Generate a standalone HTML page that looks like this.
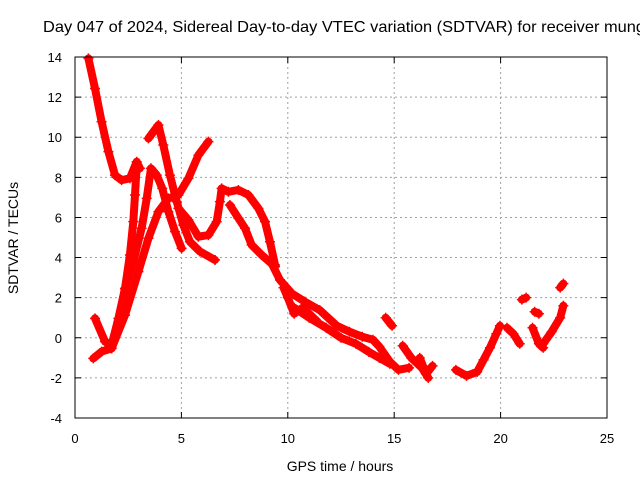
<!DOCTYPE html>
<html><head><meta charset="utf-8"><style>
body{margin:0;background:#fff}
svg{display:block;font-family:"Liberation Sans",sans-serif}
</style></head><body>
<svg id="c" width="640" height="480">
<text x="43" y="32" font-size="16" textLength="602" lengthAdjust="spacingAndGlyphs">Day 047 of 2024, Sidereal Day-to-day VTEC variation (SDTVAR) for receiver mung</text>
<text transform="translate(18,238) rotate(-90)" text-anchor="middle" font-size="14">SDTVAR / TECUs</text>
<text x="340" y="471" text-anchor="middle" font-size="14">GPS time / hours</text>
<g id="grid"></g><g id="ticks"></g><g id="data"></g>
<rect x="75" y="57" width="532" height="361" fill="none" stroke="#000" stroke-width="1"/>
</svg>
<script>
const xTicks=[0,5,10,15,20,25];
const yTicks=[-4,-2,0,2,4,6,8,10,12,14];
const seriesT=[
[0.63,0.94,1.25,1.57,1.88,2.19,2.58,2.90,3.05],
[0.86,1.25,1.72,2.04,2.35,2.58,2.74,2.82,2.90],
[0.94,1.41,1.72,2.04,2.35,2.74,3.13,3.37,3.57,3.84,4.10,4.39,4.70,5.01],
[1.72,2.35,2.98,3.45,3.92,4.39,4.86,5.33,5.80,6.27],
[3.45,3.92,4.15,4.46,4.78,5.09,5.40,5.87,6.58],
[4.86,5.33,5.80,6.27,6.66,6.81,6.89,7.21,7.68,8.15,8.62,8.93,9.16,9.40],
[7.28,7.68,7.99,8.30,8.77,9.40],
[9.16,9.63,10.2,10.8,11.5,12.3,12.9,13.5,14.0,14.3,14.8,15.2,15.7],
[9.8,10.0,10.3,10.7,11.0,11.4],
[10.3,11.0,11.8,12.5,13.2,13.8,14.3,14.8],
[14.6,14.9],
[15.4,15.8,16.3,16.6],
[16.2,16.5,16.8],
[17.9,18.4,18.9,19.2,19.5,19.8,19.97],
[20.3,20.6,20.9],
[21.0,21.2],
[21.5,21.8,22.0],
[21.6,21.8],
[22.0,22.4,22.8,22.95],
[22.8,22.95]];
const seriesV=[
[13.93,12.43,10.77,9.28,8.11,7.86,7.95,8.78,8.45],
[-1.03,-0.69,-0.53,0.8,2.46,4.13,5.79,7.12,8.61],
[0.97,-0.19,-0.36,0.97,2.46,3.8,5.46,6.95,8.45,8.11,7.45,6.29,5.29,4.46],
[-0.53,1.13,3.3,4.96,6.29,6.95,7.12,7.95,9.11,9.78],
[9.94,10.61,9.61,8.11,6.79,5.62,4.79,4.30,3.88],
[6.45,5.87,5.04,5.12,5.79,6.79,7.45,7.28,7.37,7.12,6.45,5.79,4.79,3.63],
[6.62,5.96,5.46,4.63,4.13,3.55],
[3.88,2.88,2.2,1.8,1.38,0.6,0.3,0.05,-0.1,-0.44,-1.2,-1.6,-1.5],
[2.5,2.0,1.2,1.5,1.2,0.8],
[1.5,1.0,0.5,0.0,-0.3,-0.7,-1.0,-1.3],
[1.0,0.6],
[-0.4,-1.0,-1.5,-2.0],
[-1.0,-1.8,-1.4],
[-1.6,-1.9,-1.7,-1.1,-0.5,0.2,0.6],
[0.5,0.2,-0.3],
[1.9,2.0],
[0.5,-0.3,-0.5],
[1.3,1.2],
[-0.3,0.3,1.0,1.6],
[2.5,2.7]];
const NS="http://www.w3.org/2000/svg";
const X=t=>75+t*532/25;
const Y=v=>418-(v+4)*361/18;
function mk(tag,attrs,parent){const e=document.createElementNS(NS,tag);for(const k in attrs)e.setAttribute(k,attrs[k]);parent.appendChild(e);return e;}
const grid=document.getElementById('grid'),ticks=document.getElementById('ticks'),data=document.getElementById('data');
xTicks.forEach(t=>{
  if(t>0&&t<25){const g=mk('line',{x1:X(t),x2:X(t),y1:57,y2:418,stroke:'#a0a0a0','stroke-dasharray':'2,3'},grid);
  
  }
  const tk=mk('path',{d:`M${X(t)} 418v-6M${X(t)} 57v6`,stroke:'#000'},ticks);
  
  
  const l=mk('text',{x:X(t),y:443,'text-anchor':'middle','font-size':'13'},ticks);l.textContent=t;
  
  
});
yTicks.forEach(v=>{
  if(v>-4&&v<14){const g=mk('line',{x1:75,x2:607,y1:Y(v),y2:Y(v),stroke:'#a0a0a0','stroke-dasharray':'2,3'},grid);
  
  }
  const tk=mk('path',{d:`M75 ${Y(v)}h6M607 ${Y(v)}h-6`,stroke:'#000'},ticks);
  
  
  const l=mk('text',{x:62,y:Y(v)+5,'text-anchor':'end','font-size':'13'},ticks);l.textContent=v;
  
  
});
seriesT.forEach((ts,i)=>{
  const vs=seriesV[i];
  const pts=ts.map((t,j)=>X(t)+','+Y(vs[j])).join(' ');
  const pl=mk('polyline',{points:pts,fill:'none',stroke:'#ff0000','stroke-width':'8','stroke-linejoin':'round','stroke-linecap':'round'},data);
  
  
  ts.forEach((t,j)=>{
    const m=mk('path',{d:`M${X(t)-5} ${Y(vs[j])}h10M${X(t)} ${Y(vs[j])-5}v10`,stroke:'#ff0000','stroke-width':'1.5'},data);
    
    
  });
});
</script>
</body></html>
